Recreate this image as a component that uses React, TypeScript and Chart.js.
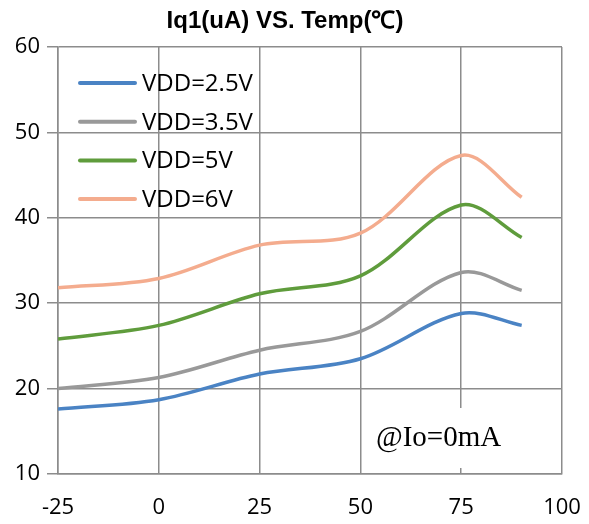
import React, { useEffect, useRef } from "react";
import { Chart, registerables } from "chart.js";

Chart.register(...registerables);

const TITLE = "Iq1(uA) VS. Temp(℃)";
const NOTE = "@Io=0mA";
const TEMPS = [-25, 0, 25, 50, 75, 90];
const SERIES_LABELS = ["VDD=2.5V", "VDD=3.5V", "VDD=5V", "VDD=6V"];
const SERIES_COLORS = ["#4a83c4", "#999999", "#5f9c3c", "#f4ac8e"];
const VDD_2_5 = [17.6, 18.7, 21.7, 23.5, 28.8, 27.4];
const VDD_3_5 = [20.0, 21.3, 24.5, 26.7, 33.6, 31.5];
const VDD_5 = [25.8, 27.4, 31.1, 33.2, 41.5, 37.7];
const VDD_6 = [31.8, 32.9, 36.8, 38.2, 47.3, 42.4];
const SERIES_VALUES = [VDD_2_5, VDD_3_5, VDD_5, VDD_6];
const X_TICKS = [-25, 0, 25, 50, 75, 100];
const Y_TICKS = [10, 20, 30, 40, 50, 60];

const GRID = "#8c8c8c";
const TICK_FONT = { family: "'Open Sans', sans-serif", size: 22 };

const overlayPlugin = {
  id: "overlay",
  afterDraw(chart: any) {
    const ctx = chart.ctx;
    ctx.save();
    // title
    ctx.fillStyle = "#000";
    ctx.font = "bold 24px 'Liberation Sans', Arial, sans-serif";
    ctx.textAlign = "center";
    ctx.textBaseline = "middle";
    ctx.fillText(TITLE, 285, 21);

    // legend
    ctx.textAlign = "left";
    ctx.font = "24px 'Open Sans', sans-serif";
    chart.data.datasets.forEach((ds: any, i: number) => {
      const y = 83 + i * 38.7;
      ctx.strokeStyle = ds.borderColor;
      ctx.lineWidth = 4;
      ctx.lineCap = "round";
      ctx.beginPath();
      ctx.moveTo(80, y);
      ctx.lineTo(135, y);
      ctx.stroke();
      ctx.fillStyle = "#000";
      ctx.fillText(ds.label, 142, y + 1);
    });

    // annotation
    ctx.fillStyle = "#fff";
    ctx.fillRect(372, 408, 138, 60);
    ctx.fillStyle = "#000";
    ctx.font = "29px 'Liberation Serif', 'Times New Roman', serif";
    ctx.textBaseline = "alphabetic";
    ctx.fillText(NOTE, 376, 446);
    ctx.restore();
  },
};

export default function App() {
  const ref = useRef<HTMLCanvasElement | null>(null);
  useEffect(() => {
    if (!ref.current) return;
    const chart = new Chart(ref.current, {
      type: "line",
      data: {
        datasets: SERIES_LABELS.map((label, i) => ({
          label,
          data: TEMPS.map((t, j) => ({ x: t, y: SERIES_VALUES[i][j] })),
          borderColor: SERIES_COLORS[i],
          backgroundColor: SERIES_COLORS[i],
          borderWidth: 3.5,
          pointRadius: 0,
          tension: 0.33,
          fill: false,
        })),
      },
      options: {
        responsive: false,
        animation: false,
        layout: { padding: { top: 47, right: 27, left: 0, bottom: 0 } },
        plugins: {
          legend: { display: false },
          title: { display: false },
          tooltip: { enabled: false },
        },
        scales: {
          x: {
            type: "linear",
            min: X_TICKS[0],
            max: X_TICKS[X_TICKS.length - 1],
            afterBuildTicks: (s: any) => {
              s.ticks = X_TICKS.map((v) => ({ value: v }));
            },
            afterFit: (s: any) => {
              s.height = 50;
              s.paddingRight = 0;
              s.paddingLeft = 0;
            },
            grid: { color: GRID, lineWidth: 1.5, drawTicks: false },
            border: { color: GRID, width: 1.5 },
            ticks: { color: "#000", font: TICK_FONT, padding: 21, maxRotation: 0, autoSkip: false },
          },
          y: {
            type: "linear",
            min: Y_TICKS[0],
            max: Y_TICKS[Y_TICKS.length - 1],
            afterBuildTicks: (s: any) => {
              s.ticks = Y_TICKS.map((v) => ({ value: v }));
            },
            afterFit: (s: any) => {
              s.width = 58;
              s.paddingTop = 0;
              s.paddingBottom = 0;
            },
            grid: { color: GRID, lineWidth: 1.5, tickLength: 11 },
            border: { color: GRID, width: 1.5 },
            ticks: { color: "#000", font: TICK_FONT, padding: 7 },
          },
        },
      },
      plugins: [overlayPlugin],
    } as any);
    return () => chart.destroy();
  }, []);
  return (
    <div style={{ position: "absolute", left: 0, top: 0, width: 589, height: 524, background: "#fff" }}>
      <canvas ref={ref} width={589} height={524} style={{ display: "block" }} />
    </div>
  );
}
